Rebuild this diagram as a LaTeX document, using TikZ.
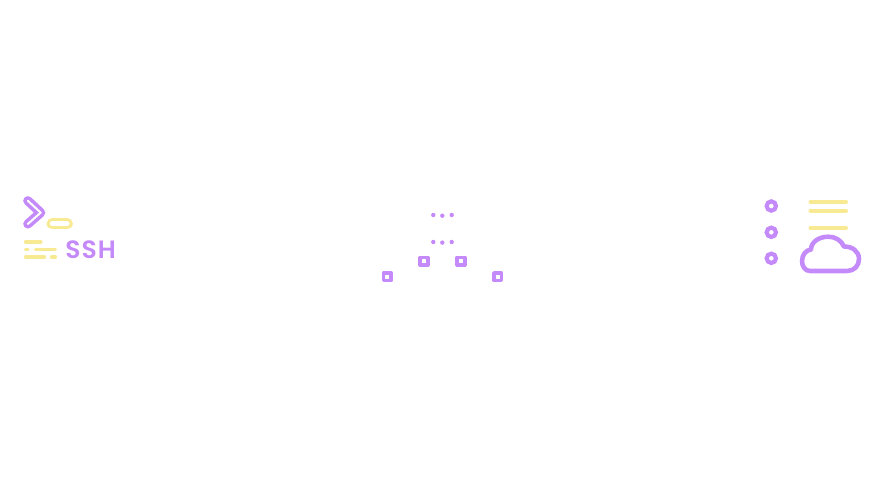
\documentclass[tikz,border=0pt]{standalone}
\usepackage{fontspec}
\setmainfont{Poppins}
\newfontfamily\sshfont[LetterSpace=4]{Poppins SemiBold}
\definecolor{pur}{HTML}{C58AF9}
\definecolor{yel}{HTML}{F7EA92}
\tikzset{
  x=0.75pt,y=-0.75pt,
  yline/.style={draw=yel,line width=2.3pt,line cap=round},
  ythick/.style={draw=yel,line width=3pt,line cap=round},
  sq/.style={draw=pur,line width=2.8pt,line join=round,rectangle,minimum size=5.6pt,inner sep=0pt},
  ringn/.style={draw=pur,line width=3.1pt,circle,minimum size=7pt,inner sep=0pt},
  dotn/.style={fill=pur,circle,minimum size=3.3pt,inner sep=0pt},
}
\begin{document}
\begin{tikzpicture}
\useasboundingbox (0,0) rectangle (880,485);
% chevron
\draw[draw=pur,line width=6.9pt,line cap=round,line join=round] (27.8,200.7)--(40.7,212.7)--(27.8,224);
\draw[draw=white,line width=1.5pt,line cap=round,line join=round] (27.8,200.7)--(40.7,212.7)--(27.8,224);
% pill
\draw[draw=yel,line width=8.4pt,line cap=round] (52.2,223.8)--(67.2,223.8);
\draw[draw=white,line width=3.6pt,line cap=round] (52.2,223.8)--(67.2,223.8);
% text lines
\draw[yline] (25.5,242)--(41,242);
\draw[yline] (25.5,249.5)--(28,249.5);
\draw[yline] (35.5,249.5)--(55.5,249.5);
\draw[yline] (25.5,257)--(44.5,257);
\draw[yline] (51.5,257)--(55.5,257);
\node[anchor=base west,inner sep=0pt,text=pur,font=\sshfont\fontsize{18.8pt}{20pt}\selectfont] (ssh) at (65,258.7) {SSH};
% dots
\foreach \n/\x/\y in {a/433.3/215,b/442.3/215.7,c/451.7/215,d/433.3/242,e/442.3/242.6,f/451.7/242}
  \node[dotn] (\n) at (\x,\y) {};
% squares
\foreach \n/\x/\y in {s1/424/261.3,s2/461/261.3,s3/387.3/276.7,s4/497.7/276.7}
  \node[sq] (\n) at (\x,\y) {};
% rings
\foreach \n/\y in {r1/206,r2/232.3,r3/258.3}
  \node[ringn] (\n) at (771.3,\y) {};
% right lines
\draw[ythick] (810.5,201.7)--(846,201.7);
\draw[ythick] (810.5,210.7)--(846,210.7);
\draw[ythick] (810.5,228)--(846,228);
% cloud
\draw[draw=pur,line width=3.4pt,line join=round]
 (810,271) .. controls (805,271) and (802,266) .. (802,261)
 .. controls (802,255) and (806,250) .. (811,249.5)
 .. controls (811,242) and (819,236.7) .. (828.3,236.7)
 .. controls (835,236.7) and (841,240) .. (844,246.5)
 .. controls (852,246.5) and (859,251) .. (859,259)
 .. controls (859,266) and (854,271) .. (847,271) -- cycle;
\end{tikzpicture}
\end{document}
